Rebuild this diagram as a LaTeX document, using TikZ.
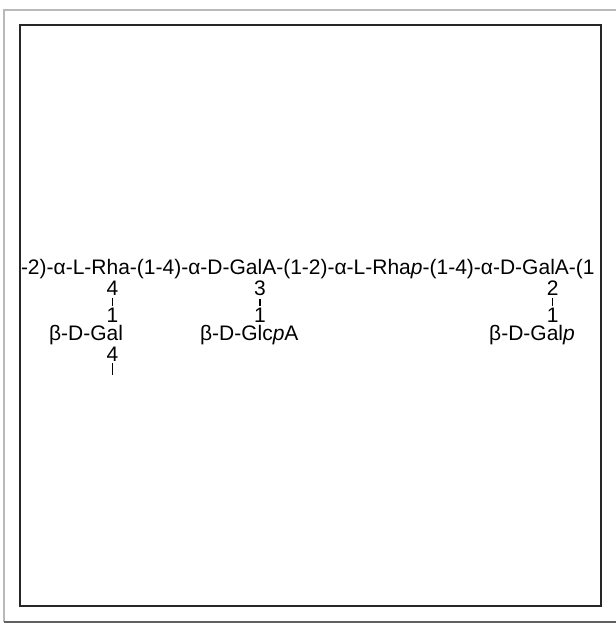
\documentclass[tikz,border=0pt]{standalone}
\usepackage{fontspec}
\setmainfont{Liberation Sans}
\usetikzlibrary{calc}
\begin{document}
\begin{tikzpicture}[x=1pt,y=1pt,
  txt/.style={inner sep=0pt, outer sep=0pt, font=\fontsize{21}{25}\selectfont},
  link/.style={line width=1.2pt, shorten >=2.5pt, shorten <=2.5pt}]
\useasboundingbox (0,0) rectangle (616,625);
\fill[white] (0,0) rectangle (616,625);
% outer frame
\draw[gray!55, line width=1.2pt] (4,3) -- (4,615) -- (616,615);
\draw[gray!75!black, line width=1.6pt] (4,3) -- (616,3);
\begin{scope}
\clip (20,19) rectangle (601,600);
% main chain
\node[txt, anchor=base west] (m1) at (21,350) {-2)-α-L-R};
\node[txt, anchor=base west] (rh) at (m1.base east) {h};
\node[txt, anchor=base west] (m2) at (rh.base east) {a-(1-4)-α-D-Ga};
\node[txt, anchor=base west] (la) at (m2.base east) {l};
\node[txt, anchor=base west] (m3) at (la.base east) {A-(1-2)-α-L-Rha\textit{p}-(1-4)-α-D-Ga};
\node[txt, anchor=base west] (lb) at (m3.base east) {l};
\node[txt, anchor=base west] (m4) at (lb.base east) {A-(1};
\end{scope}
% branch on Rha
\node[txt, anchor=base] (r4) at ($(rh.base)+(0,-21)$) {4};
\node[txt, anchor=base] (r1) at ($(r4.base)+(0,-27)$) {1};
\node[txt, anchor=base] (ga) at ($(r1.base)+(0,-18)$) {a};
\node[txt, anchor=base east] (gpre) at (ga.base west) {β-D-G};
\node[txt, anchor=base west] (gpost) at (ga.base east) {l};
\node[txt, anchor=base] (g4) at ($(ga.base)+(0,-21)$) {4};
\coordinate (gend) at ($(g4.base)+(0,-13)$);
\draw[link] (r4) -- (r1);
\draw[line width=1.2pt, shorten <=1.5pt] (g4) -- (gend);
% branch on first GalA
\node[txt, anchor=base] (a3) at ($(la.base)+(0,-21)$) {3};
\node[txt, anchor=base] (a1) at ($(a3.base)+(0,-27)$) {1};
\node[txt, anchor=base] (gl) at ($(a1.base)+(0,-18)$) {l};
\node[txt, anchor=base east] (glpre) at (gl.base west) {β-D-G};
\node[txt, anchor=base west] (glpost) at (gl.base east) {c\textit{p}A};
\draw[link] (a3) -- (a1);
% branch on second GalA
\node[txt, anchor=base] (b2) at ($(lb.base)+(0,-21)$) {2};
\node[txt, anchor=base] (b1) at ($(b2.base)+(0,-27)$) {1};
\node[txt, anchor=base] (gb) at ($(b1.base)+(0,-18)$) {a};
\node[txt, anchor=base east] (gbpre) at (gb.base west) {β-D-G};
\node[txt, anchor=base west] (gbpost) at (gb.base east) {l\textit{p}};
\draw[link] (b2) -- (b1);
% inner frame
\draw[black!85, line width=1.5pt] (20,19) rectangle (601,600);
\end{tikzpicture}
\end{document}
